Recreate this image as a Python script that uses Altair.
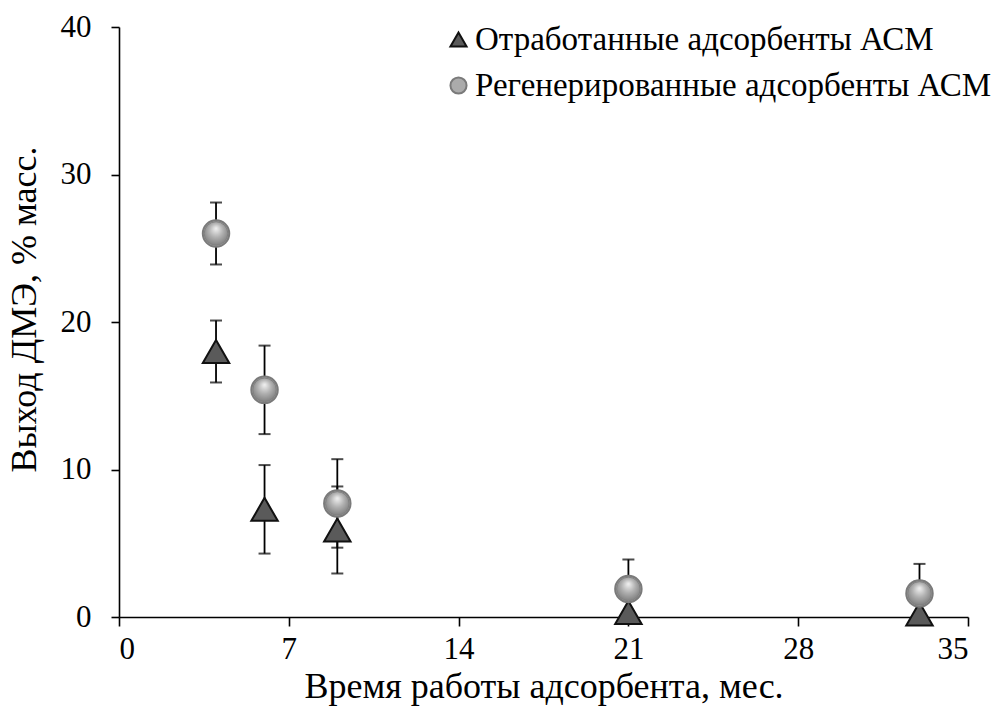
import altair as alt
import pandas as pd

# ---- data ----
months = [4, 6, 9, 21, 33]
spent = [18.0, 7.3, 5.9, 0.3, 0.2]
spent_err = [2.1, 3.0, 2.95, 2.0, 2.2]
regen = [26.0, 15.4, 7.7, 1.9, 1.6]
regen_err = [2.1, 3.0, 3.0, 2.0, 2.0]
series = ["Отработанные адсорбенты АСМ", "Регенерированные адсорбенты АСМ"]
x_ticks = [0, 7, 14, 21, 28, 35]
y_ticks = [0, 10, 20, 30, 40]

rows = []
for name, vals, errs in ((series[0], spent, spent_err), (series[1], regen, regen_err)):
    for m, v, e in zip(months, vals, errs):
        rows.append({"x": m, "y": v, "lo": v - e, "hi": v + e, "s": name})
df = pd.DataFrame(rows)

FONT = "Liberation Serif"

xenc = alt.X("x:Q", scale=alt.Scale(domain=[0, 35], nice=False, zero=False),
             axis=alt.Axis(values=x_ticks, title="Время работы адсорбента, мес.",
                           grid=False, tickSize=9, labelPadding=8, titlePadding=5))
yenc = alt.Y("y:Q", scale=alt.Scale(domain=[0, 40], nice=False),
             axis=alt.Axis(values=y_ticks, title="Выход ДМЭ, % масс.",
                           grid=False, tickSize=8, labelPadding=20, titlePadding=17,
                           titleY=282))

base = alt.Chart(df)

rules = base.mark_rule(color="black", strokeWidth=1.8, clip=True).encode(
    x=xenc, y=alt.Y("lo:Q"), y2="hi:Q")
cap_lo = base.mark_tick(color="black", thickness=2, size=12, orient="horizontal", clip=True).encode(
    x="x:Q", y="lo:Q")
cap_hi = base.mark_tick(color="black", thickness=2, size=12, orient="horizontal", clip=True).encode(
    x="x:Q", y="hi:Q")

leg = alt.Legend(title=None)
shape_enc = alt.Shape("s:N", scale=alt.Scale(domain=series, range=["triangle-up", "circle"]), legend=leg)
fill_enc = alt.Fill("s:N", scale=alt.Scale(domain=series, range=["#5a5a5a", "#ababab"]), legend=leg)
stroke_enc = alt.Stroke("s:N", scale=alt.Scale(domain=series, range=["#111111", "#7a7a7a"]), legend=leg)

points = base.mark_point(filled=True, size=700, strokeWidth=2, opacity=1).encode(
    x="x:Q", y=yenc, shape=shape_enc, fill=fill_enc, stroke=stroke_enc)

sphere = alt.RadialGradient(
    gradient="radial", x1=0.5, y1=0.28, r1=0, x2=0.5, y2=0.45, r2=0.6,
    stops=[alt.GradientStop(offset=0, color="#f2f2f2"),
           alt.GradientStop(offset=0.5, color="#b0b0b0"),
           alt.GradientStop(offset=1, color="#7a7a7a")])
circles = alt.Chart(df[df["s"] == series[1]]).mark_point(
    shape="circle", filled=True, size=560, fill=sphere, stroke="#808080", strokeWidth=1, opacity=1
).encode(x="x:Q", y="y:Q")

chart = alt.layer(rules, cap_lo, cap_hi, points, circles).properties(
    width=849, height=590,
    autosize=alt.AutoSizeParams(type="none"),
    padding={"left": 119, "top": 27, "right": 27, "bottom": 96},
).configure_view(stroke=None).configure_axis(
    domainColor="black", domainWidth=1.6, tickColor="black", tickWidth=1.6,
    labelFont=FONT, labelFontSize=31, labelColor="black",
    titleFont=FONT, titleFontSize=36, titleFontWeight="normal", titleColor="black",
).configure_legend(
    orient="none", legendX=323, legendY=-4,
    labelFont=FONT, labelFontSize=33, labelColor="black", labelOffset=0, labelLimit=0,
    symbolSize=260, symbolStrokeWidth=2, rowPadding=12,
)

chart.save("out.html", embed_options={"renderer": "svg", "actions": False})
